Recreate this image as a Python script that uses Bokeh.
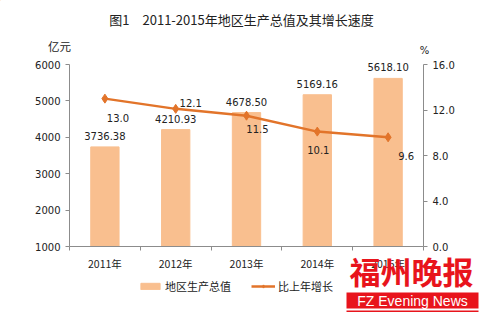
from bokeh.plotting import figure
from bokeh.models import (Range1d, LinearAxis, FixedTicker, ColumnDataSource, LabelSet,
                          Label, Legend, LegendItem, NumeralTickFormatter, GridBox,
                          BoxAnnotation, Column)
from bokeh.core.properties import value
from bokeh.embed import file_html
from bokeh.resources import INLINE

# ---- data ----
years = ["2011年", "2012年", "2013年", "2014年", "2015年"]
gdp = [3736.38, 4210.93, 4678.50, 5169.16, 5618.10]
growth = [13.0, 12.1, 11.5, 10.1, 9.6]
gdp_labels = ["3736.38", "4210.93", "4678.50", "5169.16", "5618.10"]
growth_labels = ["13.0", "12.1", "11.5", "10.1", "9.6"]
left_ticks = [1000, 2000, 3000, 4000, 5000, 6000]
right_ticks = [0, 4, 8, 12, 16]

title_text = "图1　2011-2015年地区生产总值及其增长速度"
series_names = ["地区生产总值", "比上年增长"]

BAR = "#F9BF8F"
LINE = "#E2742A"
AXIS = "#8C8C8C"
TXT = "#222222"
RED = "#E8141C"
NUM_FONT = "DejaVu Sans"
CJK_FONT = "Noto Sans CJK SC"

W, H = 500, 313
L, R, T, B = 69, 77, 58, 67
AXIS_PX = 182           # pixel height of the 1000..6000 / 0..16 axes
FRAME_PX = H - T - B    # frame is a little taller so top value labels are not clipped
lo, hi = left_ticks[0], left_ticks[-1]
plo, phi = right_ticks[0], right_ticks[-1]

p = figure(width=W, height=H, output_backend="svg", toolbar_location=None,
           x_range=Range1d(0, len(years)),
           y_range=Range1d(lo, lo + (hi - lo) * FRAME_PX / AXIS_PX),
           min_border_left=L, min_border_right=R, min_border_top=T, min_border_bottom=B)
p.extra_y_ranges = {"pct": Range1d(plo, plo + (phi - plo) * FRAME_PX / AXIS_PX)}
p.xgrid.visible = False
p.ygrid.visible = False
p.outline_line_color = None
p.background_fill_color = "white"
p.border_fill_color = "white"

xs = [i + 0.5 for i in range(len(years))]
src = ColumnDataSource(dict(x=xs, gdp=gdp, growth=growth, gl=gdp_labels, rl=growth_labels,
                            dx=[13, 15, 11, 1, 18], dy=[-19, 6, -13, -18, -19]))

p.vbar(x="x", top="gdp", bottom=lo, width=0.4, source=src, color=BAR)
p.line(x="x", y="growth", source=src, y_range_name="pct", color=LINE, line_width=2.5)
p.scatter(x="x", y="growth", source=src, y_range_name="pct", marker="diamond",
          size=9, color=LINE)

# axes
ax = p.xaxis[0]
ax.ticker = FixedTicker(ticks=xs, minor_ticks=list(range(len(years) + 1)))
ax.major_label_overrides = {x: y for x, y in zip(xs, years)}
ax.major_tick_line_color = None
ax.minor_tick_line_color = AXIS
ax.minor_tick_out = 4
ax.minor_tick_in = 0
ax.axis_line_color = AXIS
ax.major_label_text_font = CJK_FONT
ax.major_label_text_font_size = "10.5px"
ax.major_label_text_color = TXT
ax.major_label_standoff = 3

ly = p.yaxis[0]
ly.ticker = FixedTicker(ticks=left_ticks)
ly.bounds = (lo, hi)
ly.minor_tick_line_color = None
ly.major_tick_in = 0
ly.major_tick_out = 4
ly.axis_line_color = AXIS
ly.major_tick_line_color = AXIS
ly.major_label_text_font = NUM_FONT
ly.major_label_text_font_size = "10px"
ly.major_label_text_color = TXT
ly.major_label_standoff = 5

ry = LinearAxis(y_range_name="pct", ticker=FixedTicker(ticks=right_ticks),
                formatter=NumeralTickFormatter(format="0.0"), bounds=(plo, phi))
ry.minor_tick_line_color = None
ry.major_tick_in = 0
ry.major_tick_out = 4
ry.axis_line_color = AXIS
ry.major_tick_line_color = AXIS
ry.major_label_text_font = NUM_FONT
ry.major_label_text_font_size = "10px"
ry.major_label_text_color = TXT
ry.major_label_standoff = 5
p.add_layout(ry, "right")

# value labels
p.add_layout(LabelSet(x="x", y="gdp", text="gl", source=src, y_offset=11,
                      text_align="center", text_baseline="middle",
                      text_font=value(NUM_FONT), text_font_size="10px", text_color=TXT))
p.add_layout(LabelSet(x="x", y="growth", text="rl", source=src, y_range_name="pct",
                      x_offset="dx", y_offset="dy",
                      text_align="center", text_baseline="middle",
                      text_font=value(NUM_FONT), text_font_size="10px", text_color=TXT))

# ---- transparent overlay (canvas pixel coordinates, y downwards) for free texts ----
o = figure(width=W, height=H, output_backend="svg", toolbar_location=None,
           x_range=Range1d(0, W), y_range=Range1d(H, 0),
           x_axis_location=None, y_axis_location=None, min_border=0)
o.xgrid.visible = False
o.ygrid.visible = False
o.outline_line_color = None
o.background_fill_alpha = 0
o.border_fill_alpha = 0


def lab(x, y, text, **kw):
    o.add_layout(Label(x=x, y=y, text=text, text_align="center",
                       text_baseline="middle", **kw))


lab(241, 19, title_text, text_font=CJK_FONT, text_font_size="13px", text_color=TXT)
lab(59, 45, "亿元", text_font=CJK_FONT, text_font_size="11.5px", text_color=TXT)
lab(424, 50, "%", text_font=NUM_FONT, text_font_size="10px", text_color=TXT)

# legend swatches: renderers with a single point placed off the canvas
off = ColumnDataSource(dict(x=[-1000], y=[-1000]))
r_bar = o.vbar(x="x", top="y", width=1, source=off, color=BAR)
r_line = o.line(x="x", y="y", source=off, color=LINE, line_width=2.5)
r_mk = o.scatter(x="x", y="y", source=off, marker="diamond", size=7, color=LINE)
legend = Legend(items=[LegendItem(label=series_names[0], renderers=[r_bar]),
                       LegendItem(label=series_names[1], renderers=[r_line, r_mk])],
                orientation="horizontal", location=(138, 19),
                label_text_font=CJK_FONT, label_text_font_size="11px",
                label_text_color=TXT, glyph_width=24, glyph_height=8,
                spacing=20, label_standoff=3, padding=2, margin=0,
                border_line_color=None, background_fill_alpha=0)
o.add_layout(legend, "center")

# watermark
lab(411, 270, "福州晚报", text_font=CJK_FONT, text_font_size="31px",
    text_font_style="bold", text_color=RED)
o.add_layout(BoxAnnotation(left=346, right=478, top=292, bottom=308,
                           fill_color=RED, fill_alpha=1, line_color=None))
o.add_layout(BoxAnnotation(left=346, right=478, top=310, bottom=311.5,
                           fill_color=RED, fill_alpha=1, line_color=None))
lab(412, 300, "FZ Evening News", text_font="Liberation Sans", text_font_size="14px",
    text_color="white")

grid = GridBox(children=[(p, 0, 0), (Column(o, width=W, height=H), 0, 0)], width=W, height=H)

open("out.html", "w").write(file_html(grid, INLINE))
